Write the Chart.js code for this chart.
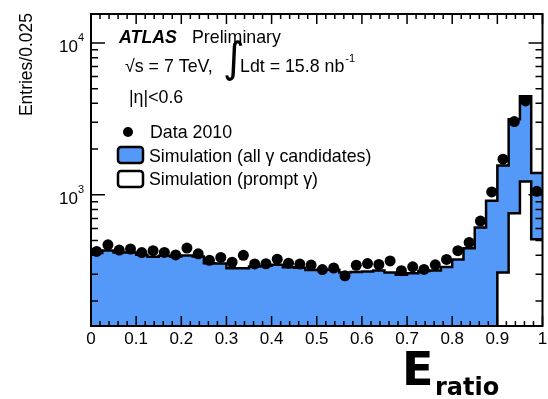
<!DOCTYPE html>
<html>
<head>
<meta charset="utf-8">
<script src="https://cdn.jsdelivr.net/npm/chart.js"></script>
<style>
  html, body { margin: 0; padding: 0; background: #fff; }
  #wrap { width: 548px; height: 399px; }
</style>
</head>
<body>
<div id="wrap"><canvas id="eratioChart" width="548" height="399"></canvas></div>
<script>
// E_ratio, |eta|<0.6, 40 bins of 0.025 between 0 and 1
var binWidth = 0.025;
var xMin = 0, xMax = 1;
var yMin = 137, yMax = 15500;

// Data 2010 (points)
var dataValues = [424, 469, 433, 440, 417, 429, 418, 402, 446, 409,
                  371, 387, 360, 400, 351, 352, 377, 355, 350, 345,
                  322, 330, 293, 344, 353, 348, 367, 317, 336, 323,
                  346, 376, 429, 486, 672, 1046, 1716, 3037, 4150, 1055];

// Simulation, all gamma candidates (blue)
var allCandidates = [414, 430, 417, 417, 403, 391, 397, 393, 399, 393,
                     355, 353, 329, 329, 337, 341, 346, 334, 331, 320,
                     321, 321, 308, 311, 313, 318, 308, 298, 305, 315,
                     318, 335, 375, 445, 610, 915, 1560, 3150, 4450, 1390];

// Simulation, prompt gamma (white) - below 0.9 it is off the axis
var promptPhotons = [1, 1, 1, 1, 1, 1, 1, 1, 1, 1,
                     1, 1, 1, 1, 1, 1, 1, 1, 1, 1,
                     1, 1, 1, 1, 1, 1, 1, 1, 1, 1,
                     1, 1, 1, 1, 1, 1, 308, 758, 1223, 511];

// y tick labels (10^n)
var yLabelValues = [1000, 10000];
var yLabelBase = ['10', '10'];
var yLabelExp = ['3', '4'];

var blueFill = '#5599f8';
var fontName = '"Liberation Sans", Arial, sans-serif';
var textSize = 17.8;

function stepPoints(values) {
    var pts = values.map(function (v, i) { return { x: xMin + i * binWidth, y: v }; });
    pts.push({ x: xMin + values.length * binWidth, y: values[values.length - 1] });
    return pts;
}

function centerPoints(values) {
    return values.map(function (v, i) { return { x: xMin + (i + 0.5) * binWidth, y: v }; });
}

var framePlugin = {
    id: 'framePlugin',
    afterDraw: function (chart) {
        var ctx = chart.ctx;
        var a = chart.chartArea;
        var xs = chart.scales.x, ys = chart.scales.y;
        ctx.save();
        ctx.strokeStyle = '#000';
        ctx.lineWidth = 1.5;

        // x ticks, inside the frame, bottom and top
        ctx.beginPath();
        for (var k = 0; k <= 50; k++) {
            var v = xMin + k * 0.02;
            var px = xs.getPixelForValue(v);
            var len = (k % 5 === 0) ? 10 : 5;
            ctx.moveTo(px, a.bottom); ctx.lineTo(px, a.bottom - len);
            ctx.moveTo(px, a.top); ctx.lineTo(px, a.top + len);
        }
        // y ticks from the log scale, left and right
        ys.ticks.forEach(function (t) {
            var lg = Math.log10(t.value);
            var sig = t.value / Math.pow(10, Math.floor(lg + 1e-9));
            if (Math.abs(sig - Math.round(sig)) > 1e-6) return;
            var py = ys.getPixelForValue(t.value);
            if (py < a.top || py > a.bottom) return;
            var len = Math.abs(lg - Math.round(lg)) < 1e-6 ? 14 : 7;
            ctx.moveTo(a.left, py); ctx.lineTo(a.left + len, py);
            ctx.moveTo(a.right, py); ctx.lineTo(a.right - len, py);
        });
        ctx.stroke();

        ctx.lineWidth = 2;
        ctx.strokeRect(a.left, a.top, a.right - a.left, a.bottom - a.top);

        // y labels 10^n
        ctx.fillStyle = '#000';
        ctx.textBaseline = 'middle';
        yLabelValues.forEach(function (v, i) {
            var py = ys.getPixelForValue(v);
            ctx.font = '11px ' + fontName;
            ctx.textAlign = 'right';
            ctx.fillText(yLabelExp[i], a.left - 7, py - 5);
            var ew = ctx.measureText(yLabelExp[i]).width;
            ctx.font = '17px ' + fontName;
            ctx.fillText(yLabelBase[i], a.left - 7 - ew, py + 4);
        });

        // y title
        ctx.save();
        ctx.translate(27, 13);
        ctx.rotate(-Math.PI / 2);
        ctx.font = '17.5px ' + fontName;
        ctx.textAlign = 'right';
        ctx.fillText('Entries/0.025', 0, 0);
        ctx.restore();

        // x title E_ratio
        ctx.textAlign = 'left';
        ctx.textBaseline = 'alphabetic';
        ctx.font = 'bold 46px "DejaVu Sans"';
        ctx.fillText('E', 402, 385);
        ctx.font = 'bold 24px "DejaVu Sans"';
        ctx.fillText('ratio', 435, 395);

        // ATLAS labels
        ctx.textBaseline = 'middle';
        ctx.font = 'italic bold ' + textSize + 'px ' + fontName;
        ctx.fillText('ATLAS', 119, 38);
        ctx.font = textSize + 'px ' + fontName;
        ctx.fillText('Preliminary', 192, 38);
        ctx.fillText('\u221As = 7 TeV,', 125, 67);
        ctx.font = '42px "DejaVu Sans"';
        ctx.fillText('\u222B', 223, 61);
        ctx.font = textSize + 'px ' + fontName;
        ctx.fillText('Ldt = 15.8 nb', 240, 67);
        var lw = ctx.measureText('Ldt = 15.8 nb').width;
        ctx.font = '11px ' + fontName;
        ctx.fillText('-1', 240 + lw + 1, 59);
        ctx.font = textSize + 'px ' + fontName;
        ctx.fillText('|\u03B7|<0.6', 129, 98);

        // legend
        ctx.beginPath();
        ctx.arc(128, 132, 5, 0, Math.PI * 2);
        ctx.fill();
        ctx.fillText('Data 2010', 150, 133);
        ctx.lineWidth = 2.5;
        ctx.beginPath();
        ctx.roundRect(118, 147, 25, 16, 3);
        ctx.fillStyle = blueFill;
        ctx.fill();
        ctx.stroke();
        ctx.fillStyle = '#000';
        ctx.fillText('Simulation (all \u03B3 candidates)', 149, 157);
        ctx.beginPath();
        ctx.roundRect(118, 171, 25, 16, 3);
        ctx.fillStyle = '#fff';
        ctx.fill();
        ctx.stroke();
        ctx.fillStyle = '#000';
        ctx.fillText('Simulation (prompt \u03B3)', 149, 180);
        ctx.restore();
    }
};

var ctx = document.getElementById('eratioChart').getContext('2d');
var eratioChart = new Chart(ctx, {
    type: 'scatter',
    data: {
        datasets: [{
            label: 'Data 2010',
            data: centerPoints(dataValues),
            pointRadius: 5.5,
            pointBackgroundColor: '#000',
            pointBorderWidth: 0,
            showLine: false
        }, {
            type: 'line',
            label: 'Simulation (prompt \u03B3)',
            data: stepPoints(promptPhotons),
            stepped: 'before',
            borderColor: '#000',
            borderWidth: 2.5,
            backgroundColor: '#fff',
            fill: 'start',
            pointRadius: 0
        }, {
            type: 'line',
            label: 'Simulation (all \u03B3 candidates)',
            data: stepPoints(allCandidates),
            stepped: 'before',
            borderColor: '#000',
            borderWidth: 2.5,
            backgroundColor: blueFill,
            fill: 'start',
            pointRadius: 0
        }]
    },
    options: {
        responsive: false,
        animation: false,
        events: [],
        layout: { padding: { top: 14, right: 5, left: 0, bottom: 0 } },
        plugins: { legend: { display: false }, tooltip: { enabled: false } },
        scales: {
            x: {
                type: 'linear',
                min: xMin,
                max: xMax,
                grid: { display: false, drawTicks: false },
                border: { display: false },
                ticks: {
                    stepSize: 0.1,
                    padding: 3,
                    color: '#000',
                    maxRotation: 0,
                    font: { family: fontName, size: 17 },
                    callback: function (v) { return String(Number(v.toFixed(2))); }
                },
                afterFit: function (scale) {
                    scale.height = 73;
                    scale.paddingLeft = 0;
                    scale.paddingRight = 0;
                }
            },
            y: {
                type: 'logarithmic',
                min: yMin,
                max: yMax,
                grid: { display: false, drawTicks: false },
                border: { display: false },
                ticks: { display: false },
                afterFit: function (scale) { scale.width = 91; }
            }
        }
    },
    plugins: [framePlugin]
});
</script>
</body>
</html>
